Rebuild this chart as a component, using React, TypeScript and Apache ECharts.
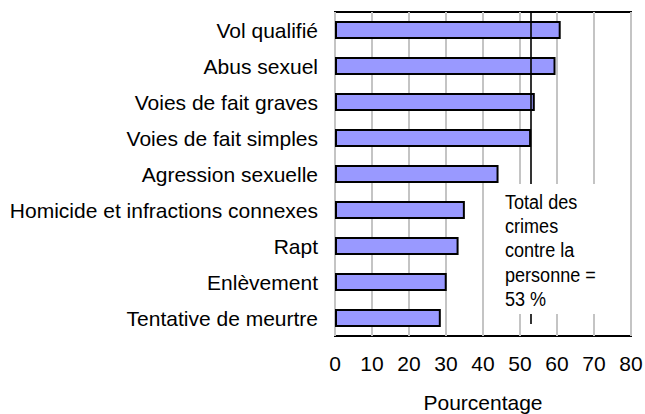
import React, { useEffect, useRef } from "react";
import * as echarts from "echarts";

const categories = [
  "Vol qualifié",
  "Abus sexuel",
  "Voies de fait graves",
  "Voies de fait simples",
  "Agression sexuelle",
  "Homicide et infractions connexes",
  "Rapt",
  "Enlèvement",
  "Tentative de meurtre",
];
const values = [61, 59.6, 54, 53, 44.2, 35.1, 33.4, 30.2, 28.6];
const totalValue = 53;
const boxLines = ["Total des", "crimes", "contre la", "personne =", "53 %"];

const ARIAL = '"Liberation Sans", Arial, sans-serif';

export default function App() {
  const ref = useRef<HTMLDivElement>(null);
  useEffect(() => {
    if (!ref.current) return;
    const chart = echarts.init(ref.current, null, { renderer: "svg" });
    chart.setOption({
      animation: false,
      backgroundColor: "#fff",
      grid: {
        left: 335,
        right: 14,
        top: 12,
        bottom: 78,
        outerBoundsMode: "none",
        containLabel: false,
        show: true,
        borderColor: "#000",
        borderWidth: 2,
        backgroundColor: "transparent",
      },
      xAxis: {
        type: "value",
        min: 0,
        max: 80,
        interval: 10,
        name: "Pourcentage",
        nameLocation: "middle",
        nameGap: 56,
        nameTextStyle: { fontSize: 21, color: "#000", fontFamily: ARIAL },
        axisLine: { show: false },
        axisTick: { show: false },
        axisLabel: { fontSize: 21, color: "#000", fontFamily: ARIAL, margin: 17 },
        splitLine: { show: true, lineStyle: { color: "#c4c4c4", width: 2 } },
      },
      yAxis: {
        type: "category",
        data: categories,
        inverse: true,
        axisLine: { show: false },
        axisTick: { show: false },
        axisLabel: { fontSize: 21, color: "#000", fontFamily: ARIAL, margin: 17 },
        splitLine: { show: false },
      },
      series: [
        {
          type: "bar",
          data: values,
          barWidth: 18,
          itemStyle: { color: "#9999ff", borderColor: "#000", borderWidth: 2 },
          markLine: {
            silent: true,
            symbol: "none",
            label: { show: false },
            lineStyle: { color: "#000", width: 1.6, type: "solid" },
            data: [{ xAxis: totalValue }],
          },
        },
      ],
      graphic: [
        {
          type: "rect",
          z: 100,
          shape: { x: 490, y: 184, width: 136, height: 130 },
          style: { fill: "#fff" },
        },
        {
          type: "rect",
          z: 100,
          shape: { x: 527, y: 324, width: 10, height: 11 },
          style: { fill: "#fff" },
        },
        {
          type: "text",
          z: 101,
          x: 505,
          y: 189,
          scaleX: 0.86,
          style: {
            text: boxLines.join("\n"),
            font: '21px "Liberation Sans", Arial, sans-serif',
            lineHeight: 24.4,
            fill: "#000",
            verticalAlign: "top",
            align: "left",
          },
        },
      ],
    });
    return () => chart.dispose();
  }, []);
  return <div ref={ref} style={{ width: 645, height: 414, position: "absolute", left: 0, top: 0 }} />;
}
